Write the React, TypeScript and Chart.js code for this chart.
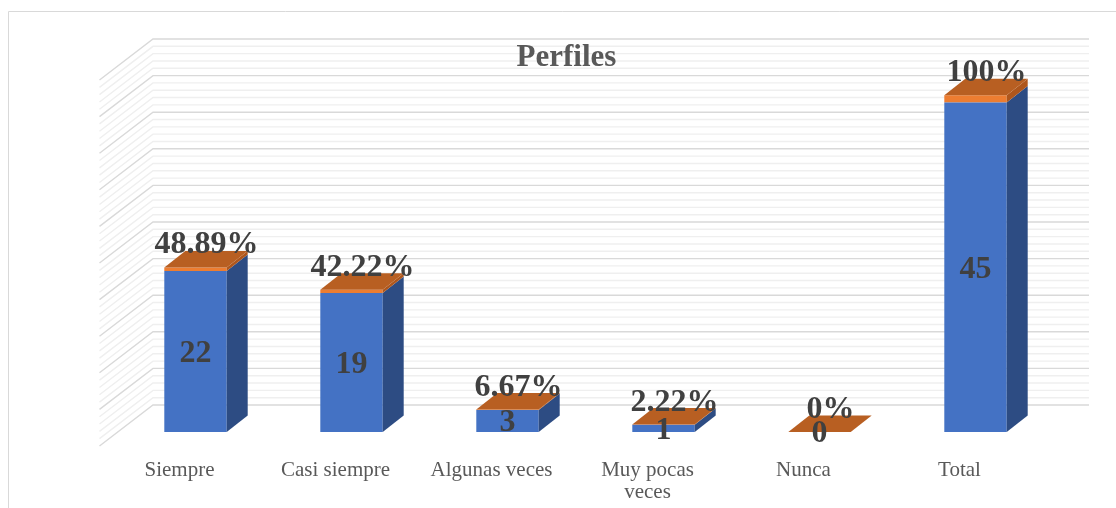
import React, { useEffect, useRef } from 'react';
import { Chart, registerables } from 'chart.js';

Chart.register(...registerables);

// Survey answers for "Perfiles": counts per answer and their share of the total.
const categories: (string | string[])[] = [
  'Siempre',
  'Casi siempre',
  'Algunas veces',
  ['Muy pocas', 'veces'],
  'Nunca',
  'Total',
];
const counts = [22, 19, 3, 1, 0, 45];
const shares = [0.4889, 0.4222, 0.0667, 0.0222, 0, 1];

// Value axis: 0..50, major lines every 5, minor lines every 1.
const axisMax = 50;
const majorStep = 5;
const minorStep = 1;
const chartTitle = 'Perfiles';

const SERIF = '"Liberation Serif", "Times New Roman", serif';
const W = 1116;
const H = 508;

// Oblique projection offsets, relative to the plane of the bars' front faces.
const BACK = { dx: 35.5, dy: -27 }; // back wall
const FRONT = { dx: -18, dy: 14 }; // front edge of the side wall / floor
const DEPTH = { dx: 21, dy: -16.5 }; // depth of each bar

const COLORS = {
  blueFront: '#4472C4',
  blueSide: '#2D4C83',
  orangeFront: '#ED7D31',
  orangeSide: '#AE561C',
  orangeTop: '#B85F22',
  gridMajor: '#D9D9D9',
  gridMinor: '#EFEFEF',
  frame: '#D9D9D9',
  label: '#404040',
  axisText: '#595959',
};

const fmtPct = (v: number) => `${Number((v * 100).toFixed(2))}%`;

const scene3d = {
  id: 'scene3d',
  beforeDatasetsDraw(chart: any) {
    const { ctx, chartArea: a, scales } = chart;
    const y = scales.y;
    ctx.save();

    // outer frame
    ctx.strokeStyle = COLORS.frame;
    ctx.lineWidth = 1;
    ctx.beginPath();
    ctx.moveTo(8.5, H);
    ctx.lineTo(8.5, 11.5);
    ctx.lineTo(W, 11.5);
    ctx.stroke();

    // back wall and left wall grid
    const level = (v: number, color: string) => {
      const yy = y.getPixelForValue(v);
      ctx.strokeStyle = color;
      ctx.beginPath();
      ctx.moveTo(a.right + BACK.dx, yy + BACK.dy);
      ctx.lineTo(a.left + BACK.dx, yy + BACK.dy);
      ctx.lineTo(a.left + FRONT.dx, yy + FRONT.dy);
      ctx.stroke();
    };
    ctx.lineWidth = 1.4;
    for (let v = 0; v <= axisMax; v += minorStep) {
      if (v % majorStep !== 0) level(v, COLORS.gridMinor);
    }
    for (let v = 0; v <= axisMax; v += majorStep) level(v, COLORS.gridMajor);

    // title
    ctx.fillStyle = COLORS.axisText;
    ctx.font = `bold 31px ${SERIF}`;
    ctx.textAlign = 'center';
    ctx.textBaseline = 'alphabetic';
    ctx.fillText(chartTitle, W / 2 + 8.5, 66);

    ctx.restore();
  },
  afterDatasetsDraw(chart: any) {
    const { ctx, chartArea: a } = chart;
    const blue = chart.getDatasetMeta(0).data;
    const orange = chart.getDatasetMeta(1).data;
    ctx.save();

    const side = (r: number, yBottom: number, yTop: number, color: string) => {
      ctx.fillStyle = color;
      ctx.beginPath();
      ctx.moveTo(r, yBottom);
      ctx.lineTo(r + DEPTH.dx, yBottom + DEPTH.dy);
      ctx.lineTo(r + DEPTH.dx, yTop + DEPTH.dy);
      ctx.lineTo(r, yTop);
      ctx.closePath();
      ctx.fill();
    };

    blue.forEach((el: any, i: number) => {
      const b = el.getProps(['x', 'y', 'base', 'width'], true);
      const o = orange[i].getProps(['x', 'y', 'base', 'width'], true);
      const l = b.x - b.width / 2;
      const r = b.x + b.width / 2;

      side(r, b.base, b.y, COLORS.blueSide);
      side(r, o.base, o.y, COLORS.orangeSide);

      // top face
      ctx.fillStyle = COLORS.orangeTop;
      ctx.beginPath();
      ctx.moveTo(l, o.y);
      ctx.lineTo(r, o.y);
      ctx.lineTo(r + DEPTH.dx, o.y + DEPTH.dy);
      ctx.lineTo(l + DEPTH.dx, o.y + DEPTH.dy);
      ctx.closePath();
      ctx.fill();

      // count inside the bar
      ctx.fillStyle = COLORS.label;
      ctx.font = `bold 32px ${SERIF}`;
      ctx.textAlign = 'center';
      ctx.textBaseline = 'middle';
      ctx.fillText(String(counts[i]), b.x, (b.y + b.base) / 2 + 2);

      // share above the bar
      ctx.textBaseline = 'alphabetic';
      ctx.fillText(fmtPct(shares[i]), b.x + 11, o.y + DEPTH.dy + 2.5);

      // category label along the front edge of the floor
      const lines = Array.isArray(categories[i]) ? (categories[i] as string[]) : [categories[i] as string];
      ctx.fillStyle = COLORS.axisText;
      ctx.font = `21px ${SERIF}`;
      lines.forEach((t, k) => {
        ctx.fillText(t, b.x + FRONT.dx + 2, a.bottom + 44 + k * 22);
      });
    });

    ctx.restore();
  },
};

export default function App() {
  const canvasRef = useRef<HTMLCanvasElement | null>(null);

  useEffect(() => {
    const canvas = canvasRef.current;
    if (!canvas) return;
    const chart = new Chart(canvas, {
      type: 'bar',
      data: {
        labels: categories,
        datasets: [
          {
            label: 'Frecuencia',
            data: counts,
            backgroundColor: COLORS.blueFront,
            borderWidth: 0,
            barPercentage: 0.4,
            categoryPercentage: 1,
          },
          {
            label: 'Porcentaje',
            data: shares,
            backgroundColor: COLORS.orangeFront,
            borderWidth: 0,
            barPercentage: 0.4,
            categoryPercentage: 1,
          },
        ],
      },
      options: {
        responsive: false,
        animation: false,
        devicePixelRatio: 1,
        layout: { padding: { left: 117.5, right: 62.5, top: 66, bottom: 76 } },
        plugins: {
          legend: { display: false },
          title: { display: false },
          tooltip: { enabled: false },
        },
        scales: {
          x: { display: false, stacked: true },
          y: { display: false, stacked: true, min: 0, max: axisMax },
        },
      },
      plugins: [scene3d],
    });
    return () => chart.destroy();
  }, []);

  return (
    <div style={{ position: 'fixed', left: 0, top: 0, width: W, height: H, background: '#fff' }}>
      <canvas ref={canvasRef} width={W} height={H} style={{ display: 'block' }} />
    </div>
  );
}
